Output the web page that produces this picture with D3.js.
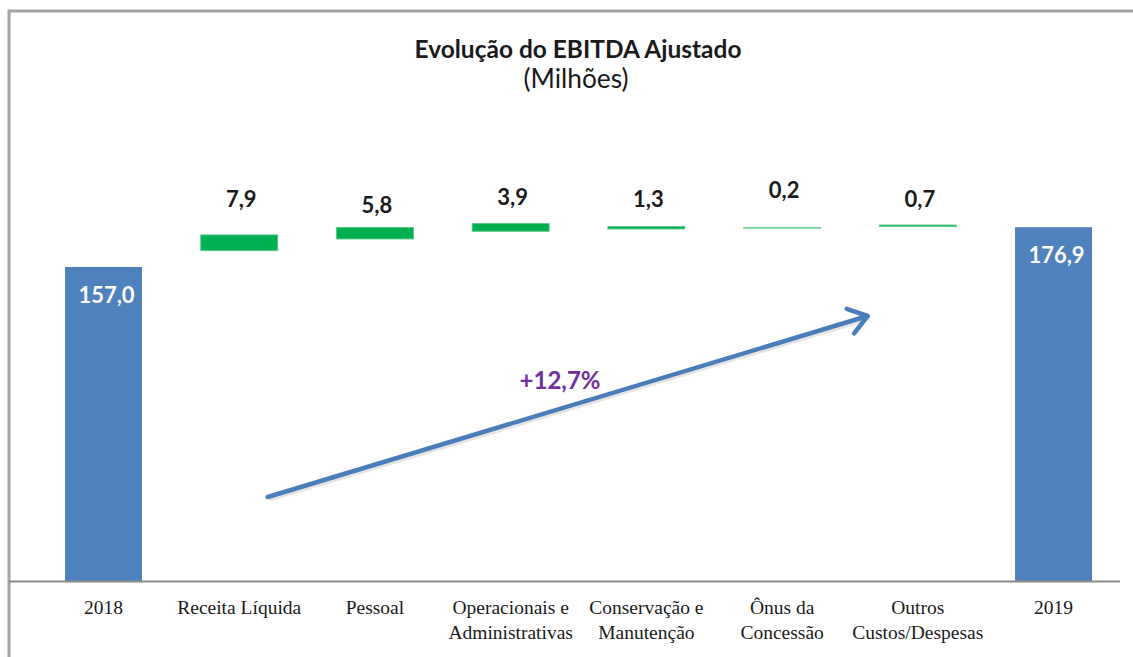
<!DOCTYPE html>
<html>
<head>
<meta charset="utf-8">
<script src="https://cdn.jsdelivr.net/npm/d3@7"></script>
<style>
  html, body { margin: 0; padding: 0; background: #ffffff; }
  svg { display: block; }
</style>
</head>
<body>
<svg id="chart" width="1133" height="657"></svg>
<script>
// ---------------- DATA ----------------
const categories = ["2018", "Receita Líquida", "Pessoal", "Operacionais e\nAdministrativas",
  "Conservação e\nManutenção", "Ônus da\nConcessão", "Outros\nCustos/Despesas", "2019"];
const totalCategories = ["2018", "2019"];
const totalValues = [157.0, 176.9];
const totalLabels = ["157,0", "176,9"];
const stepCategories = categories.slice(1, 7);
const stepValues = [7.9, 5.8, 3.9, 1.3, 0.2, 0.7];
const stepBases = [165.15, 171.0, 174.85, 176.0, 176.45, 177.3]; // invisible base series
const stepLabels = ["7,9", "5,8", "3,9", "1,3", "0,2", "0,7"];
const titleText = "Evolução do EBITDA Ajustado";
const subtitleText = "(Milhões)";
const growthLabel = "+12,7%";
// growth arrow annotation, in (category index, value) coordinates
const arrowFrom = [1.21, 42.0];
const arrowTo = [5.63, 132.5];
const growthLabelAt = [3.364, 96];

// ---------------- LAYOUT ----------------
const W = 1133, H = 657;
const baseY = 581;
const stepLabelDy = [-28, -14, -19, -19, -30, -18];

const svg = d3.select("#chart");
svg.append("rect").attr("width", W).attr("height", H).attr("fill", "#ffffff");

// frame
svg.append("rect")
  .attr("x", 9).attr("y", 11).attr("width", 1300).attr("height", 800)
  .attr("fill", "none").attr("stroke", "#a3a3a3").attr("stroke-width", 3);

const x = d3.scaleBand()
  .domain(categories)
  .range([35.64, 1121.4])
  .paddingInner(0.433)
  .paddingOuter(0.2165);

const y = d3.scaleLinear().domain([0, 190]).range([baseY, baseY - 380]);

const step = x.step();
const xIdx = i => x(categories[0]) + x.bandwidth() / 2 + i * step;

// title
function fitText(sel, targetWidth) {
  const node = sel.node();
  const fs = parseFloat(sel.attr("font-size"));
  const len = node.getComputedTextLength();
  if (len > 0) sel.attr("font-size", (fs * targetWidth / len).toFixed(2));
}
const title = svg.append("text")
  .attr("x", 578).attr("y", 58).attr("text-anchor", "middle")
  .attr("font-family", "Lato, 'Open Sans', sans-serif").attr("font-weight", "bold")
  .attr("font-size", 24).attr("fill", "#1a1a1a").text(titleText);
fitText(title, 327);
const sub = svg.append("text")
  .attr("x", 576).attr("y", 88).attr("text-anchor", "middle")
  .attr("font-family", "Lato, 'Open Sans', sans-serif")
  .attr("font-size", 22).attr("fill", "#1a1a1a").text(subtitleText);
fitText(sub, 105);

// total bars
svg.append("g").selectAll("rect")
  .data(totalValues)
  .join("rect")
  .attr("x", (d, i) => x(totalCategories[i]))
  .attr("width", x.bandwidth())
  .attr("y", d => y(d))
  .attr("height", d => y(0) - y(d))
  .attr("fill", "#4f81bd");

svg.append("g").selectAll("text")
  .data(totalValues)
  .join("text")
  .attr("x", (d, i) => x(totalCategories[i]) + x.bandwidth() / 2 + 3)
  .attr("y", d => y(d) + 36)
  .attr("text-anchor", "middle")
  .attr("font-family", "Lato, 'Open Sans', sans-serif").attr("font-weight", "bold")
  .attr("font-size", 22).attr("fill", "#ffffff")
  .text((d, i) => totalLabels[i]);

// step (floating) bars
svg.append("g").selectAll("rect")
  .data(stepValues)
  .join("rect")
  .attr("x", (d, i) => x(stepCategories[i]))
  .attr("width", x.bandwidth())
  .attr("y", (d, i) => y(stepBases[i] + d))
  .attr("height", (d, i) => y(stepBases[i]) - y(stepBases[i] + d))
  .attr("fill", "#00b050")
  .attr("stroke", "#5cc98a").attr("stroke-width", 0.9);

svg.append("g").selectAll("text")
  .data(stepValues)
  .join("text")
  .attr("x", (d, i) => x(stepCategories[i]) + x.bandwidth() / 2 + 2)
  .attr("y", (d, i) => y(stepBases[i] + d) + stepLabelDy[i])
  .attr("text-anchor", "middle")
  .attr("font-family", "Lato, 'Open Sans', sans-serif").attr("font-weight", "bold")
  .attr("font-size", 22).attr("fill", "#1a1a1a")
  .text((d, i) => stepLabels[i]);

// axis line
svg.append("line")
  .attr("x1", 9).attr("x2", 1120).attr("y1", baseY + 0.5).attr("y2", baseY + 0.5)
  .attr("stroke", "#8c8c8c").attr("stroke-width", 2);

// category axis
const axis = d3.axisBottom(x).tickSize(0).tickSizeOuter(0).tickFormat(() => "");
const gAxis = svg.append("g").attr("transform", `translate(0,${baseY})`).call(axis);
gAxis.select(".domain").remove();
gAxis.selectAll(".tick text").each(function(d) {
  const t = d3.select(this)
    .attr("font-family", "'Liberation Serif', 'Times New Roman', serif")
    .attr("font-size", 19.5).attr("fill", "#1a1a1a")
    .attr("y", 0).attr("dy", null);
  d.split("\n").forEach((line, j) => {
    t.append("tspan").attr("x", 0).attr("y", 33 + j * 25).text(line);
  });
});

// growth arrow
const ax1 = xIdx(arrowFrom[0]), ay1 = y(arrowFrom[1]);
const ax2 = xIdx(arrowTo[0]), ay2 = y(arrowTo[1]);
const ang = Math.atan2(ay2 - ay1, ax2 - ax1);
const headLen = 22, headAng = 0.62;
const arrowColor = "#4a7ebb";
const gArrow = svg.append("g");
// soft shadow
gArrow.append("path")
  .attr("d", `M${ax1 + 1.5},${ay1 + 2}L${ax2 + 1.5},${ay2 + 2}`)
  .attr("stroke", "#c9c9c9").attr("stroke-width", 5).attr("stroke-opacity", 0.5)
  .attr("fill", "none");
gArrow.append("path")
  .attr("d", `M${ax1},${ay1}L${ax2},${ay2}`)
  .attr("stroke", arrowColor).attr("stroke-width", 4.5).attr("fill", "none")
  .attr("stroke-linecap", "round");
const h1 = [ax2 - headLen * Math.cos(ang - headAng), ay2 - headLen * Math.sin(ang - headAng)];
const h2 = [ax2 - headLen * Math.cos(ang + headAng), ay2 - headLen * Math.sin(ang + headAng)];
gArrow.append("path")
  .attr("d", `M${h1[0]},${h1[1]}L${ax2},${ay2}L${h2[0]},${h2[1]}`)
  .attr("stroke", arrowColor).attr("stroke-width", 4.5).attr("fill", "none")
  .attr("stroke-linecap", "round").attr("stroke-linejoin", "round");

svg.append("text")
  .attr("x", xIdx(growthLabelAt[0])).attr("y", y(growthLabelAt[1]))
  .attr("text-anchor", "middle")
  .attr("font-family", "Lato, 'Open Sans', sans-serif").attr("font-weight", "bold")
  .attr("font-size", 24).attr("fill", "#7030a0")
  .text(growthLabel);
</script>
</body>
</html>
